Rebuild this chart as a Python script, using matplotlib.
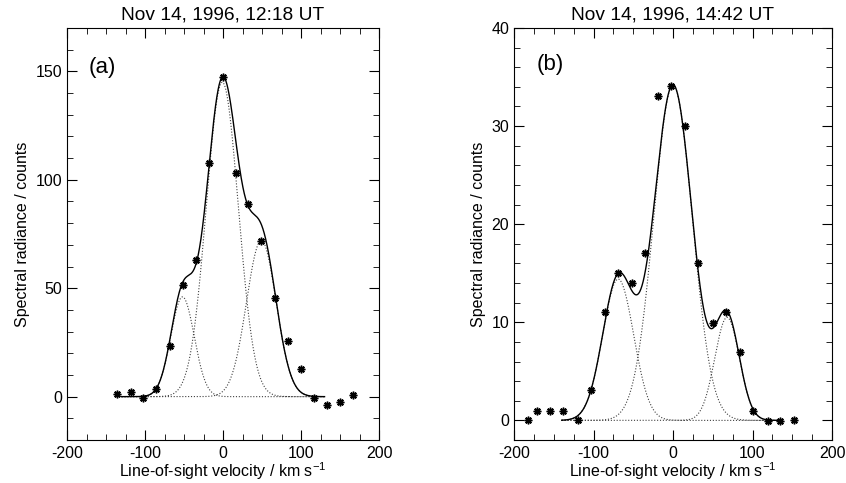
import numpy as np
import matplotlib
matplotlib.use("Agg")
import matplotlib.pyplot as plt
from matplotlib.ticker import MultipleLocator

plt.rcParams['font.family'] = ['Liberation Sans', 'DejaVu Sans']
plt.rcParams['mathtext.fontset'] = 'custom'
plt.rcParams['mathtext.rm'] = 'Liberation Sans'
plt.rcParams['axes.unicode_minus'] = False

# panel (a) measured points
vel_a = [-136, -118, -103, -86, -68, -52, -35, -18, 0, 17, 32, 49, 66, 83, 100, 116, 133, 150, 167]
rad_a = [1, 2, -0.5, 3.4, 23.4, 51.6, 62.8, 107.6, 147.3, 103.1, 88.8, 71.6, 45.7, 25.6, 12.9, -0.5, -3.8, -2.3, 0.8]
# gaussian fit components (a): amplitude, centre, width
amp_a = [46, 145, 72]
cen_a = [-52, -1, 49]
wid_a = [15, 20.5, 19]
fit_range_a = [-130, 130]

# panel (b) measured points
vel_b = [-183, -171, -155, -138, -120, -103, -86, -69, -52, -35, -19, -2, 15, 32, 50, 67, 84, 100, 119, 135, 152]
rad_b = [0, 1, 1, 1, 0, 3.1, 11, 15, 14, 17.1, 33.1, 34.1, 30, 16, 9.9, 11, 7, 1, -0.1, -0.1, 0]
amp_b = [14.4, 34.2, 10.5]
cen_b = [-69, 0, 68]
wid_b = [19.5, 24.2, 15.5]
fit_range_b = [-140, 135]

titles = ["Nov 14, 1996, 12:18 UT", "Nov 14, 1996, 14:42 UT"]
labels = ["(a)", "(b)"]


def draw(ax, vel, rad, amp, cen, wid, rng, ylim, ymaj, ymin, title, lab, labpos):
    v = np.linspace(rng[0], rng[1], 600)
    total = np.zeros_like(v)
    for a, c, w in zip(amp, cen, wid):
        comp = a * np.exp(-(v - c) ** 2 / (2 * w ** 2))
        total += comp
        ax.plot(v, comp, ls=(0, (1, 1.6)), color='0.25', lw=0.8)
    ax.plot(v, total, color='black', lw=1.0)
    ax.plot(vel, rad, ls='none', marker=(8, 2, 0), ms=5.5, mew=1.1, color='black')
    ax.set_xlim(-200, 200)
    ax.set_ylim(*ylim)
    ax.xaxis.set_major_locator(MultipleLocator(100))
    ax.xaxis.set_minor_locator(MultipleLocator(25))
    ax.yaxis.set_major_locator(MultipleLocator(ymaj))
    ax.yaxis.set_minor_locator(MultipleLocator(ymin))
    ax.tick_params(which='both', direction='in', top=True, right=True, labelsize=11.5)
    ax.tick_params(axis='x', pad=4)
    ax.tick_params(axis='y', pad=3.5)
    ax.tick_params(which='major', length=7)
    ax.tick_params(which='minor', length=4)
    ax.set_title(title, fontsize=13.8)
    ax.set_xlabel(r"Line-of-sight velocity / km s$^{\mathregular{-1}}$", fontsize=11.5, labelpad=0)
    ax.set_ylabel("Spectral radiance / counts", fontsize=11.5)
    ax.text(labpos[0], labpos[1], lab, fontsize=16, va='center', ha='left')


fig = plt.figure(figsize=(8.46, 4.83), dpi=100)
ax1 = fig.add_axes([0.0792, 0.089, 0.369, 0.853])
ax2 = fig.add_axes([0.6076, 0.089, 0.3759, 0.853])

draw(ax1, vel_a, rad_a, amp_a, cen_a, wid_a, fit_range_a, (-20, 170), 50, 10,
     titles[0], labels[0], (-172, 152))
draw(ax2, vel_b, rad_b, amp_b, cen_b, wid_b, fit_range_b, (-2, 40), 10, 2,
     titles[1], labels[1], (-172, 36.3))

fig.savefig("out.png", dpi=100)
